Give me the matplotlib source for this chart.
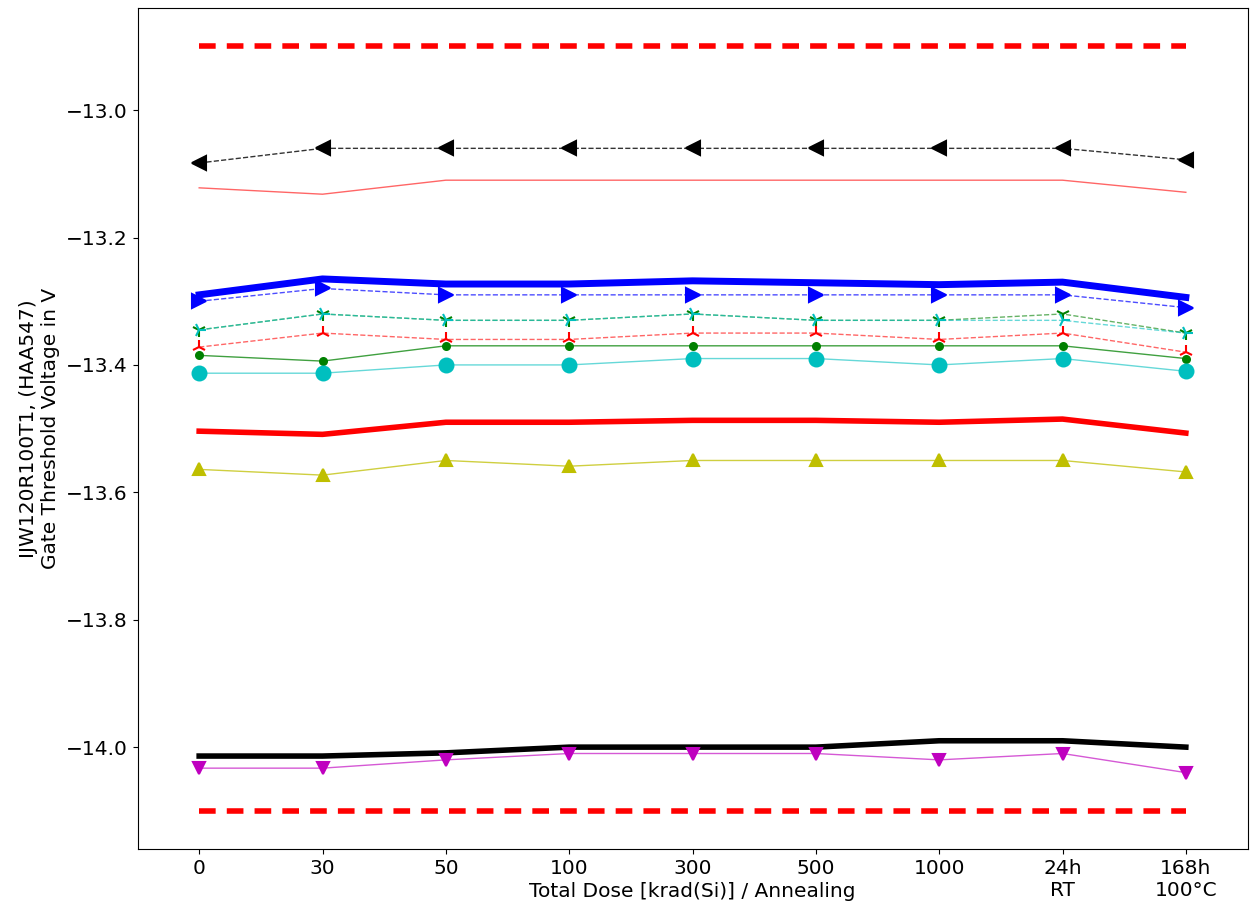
#!/usr/bin/env python3
# Gate threshold voltage vs total dose / annealing
import matplotlib
matplotlib.use('Agg')
import matplotlib.pyplot as plt

# ------------------------------------------------------------------------------
#   Data
# ------------------------------------------------------------------------------
steps = ['0', '30', '50', '100', '300', '500', '1000', '24h\nRT', '168h\n100°C']

upper_limit = -12.9
lower_limit = -14.1

black_tri_left = [-13.083, -13.06, -13.06, -13.06, -13.06, -13.06, -13.06, -13.06, -13.078]
red_thin = [-13.122, -13.132, -13.11, -13.11, -13.11, -13.11, -13.11, -13.11, -13.129]
blue_thick = [-13.29, -13.265, -13.273, -13.273, -13.268, -13.271, -13.274, -13.27, -13.294]
blue_tri_right = [-13.30, -13.28, -13.29, -13.29, -13.29, -13.29, -13.29, -13.29, -13.31]
green_dashed = [-13.345, -13.32, -13.33, -13.33, -13.32, -13.33, -13.33, -13.32, -13.35]
cyan_dashed = [-13.345, -13.32, -13.33, -13.33, -13.32, -13.33, -13.33, -13.33, -13.35]
red_dashed = [-13.372, -13.35, -13.36, -13.36, -13.35, -13.35, -13.36, -13.35, -13.38]
green_dots = [-13.385, -13.394, -13.37, -13.37, -13.37, -13.37, -13.37, -13.37, -13.39]
cyan_dots = [-13.413, -13.413, -13.40, -13.40, -13.39, -13.39, -13.40, -13.39, -13.41]
red_thick = [-13.504, -13.509, -13.49, -13.49, -13.487, -13.487, -13.49, -13.485, -13.507]
yellow_tri = [-13.564, -13.573, -13.55, -13.559, -13.55, -13.55, -13.55, -13.55, -13.568]
black_thick = [-14.014, -14.014, -14.009, -14.0, -14.0, -14.0, -13.99, -13.99, -14.0]
magenta_tri = [-14.033, -14.033, -14.02, -14.01, -14.01, -14.01, -14.02, -14.01, -14.04]


def line(ax, x, y, color, ls='-', lw=1.0, marker=None, ms=8, alpha=0.65):
    # line drawn lighter, markers on top fully opaque
    ax.plot(x, y, color=color, ls=ls, lw=lw, alpha=alpha)
    if marker is not None:
        ax.plot(x, y, ls='none', marker=marker, ms=ms, color=color, mew=1.5)


def main():
    plt.rcParams['font.size'] = 14.5
    fig, ax = plt.subplots(figsize=(12.5, 9.11), dpi=100)
    x = list(range(len(steps)))

    ax.plot(x, [upper_limit]*len(x), color='red', ls=(0, (3, 2)), lw=4)
    ax.plot(x, [lower_limit]*len(x), color='red', ls=(0, (3, 2)), lw=4)

    line(ax, x, black_tri_left, 'black', ls='--', marker='<', ms=10, alpha=0.8)
    line(ax, x, red_thin, 'red', alpha=0.6)
    ax.plot(x, blue_thick, color='blue', lw=5)
    line(ax, x, blue_tri_right, 'blue', ls='--', marker='>', ms=10, alpha=0.7)
    line(ax, x, green_dashed, 'green', ls='--', marker='1', ms=10, alpha=0.6)
    line(ax, x, cyan_dashed, 'c', ls='--', marker='4', ms=10, alpha=0.6)
    line(ax, x, red_dashed, 'red', ls='--', marker='2', ms=10, alpha=0.6)
    line(ax, x, green_dots, 'green', marker='o', ms=5, alpha=0.75)
    line(ax, x, cyan_dots, 'c', marker='o', ms=10, alpha=0.6)
    ax.plot(x, red_thick, color='red', lw=4)
    line(ax, x, yellow_tri, 'y', marker='^', ms=9, alpha=0.75)
    ax.plot(x, black_thick, color='black', lw=4)
    line(ax, x, magenta_tri, 'm', marker='v', ms=9, alpha=0.65)

    ax.set_xticks(x)
    ax.set_xticklabels(steps)
    ax.set_xlim(-0.5, 8.5)
    ax.set_ylim(-14.16, -12.84)
    ax.set_yticks([-14.0, -13.8, -13.6, -13.4, -13.2, -13.0])
    ax.set_xlabel('Total Dose [krad(Si)] / Annealing', labelpad=-13)
    ax.set_ylabel('IJW120R100T1, (HAA547)\nGate Threshold Voltage in V')

    fig.subplots_adjust(left=0.11, right=0.998, top=0.991, bottom=0.068)
    fig.savefig('out.png', dpi=100)


if __name__ == '__main__':
    plt.close('all')
    main()
